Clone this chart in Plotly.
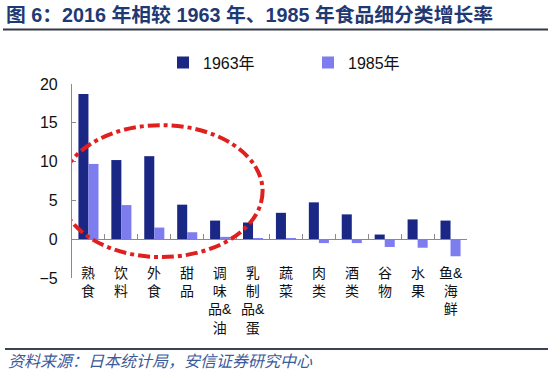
import plotly.graph_objects as go

categories = ["熟食", "饮料", "外食", "甜品", "调味品&油", "乳制品&蛋",
              "蔬菜", "肉类", "酒类", "谷物", "水果", "鱼&海鲜"]
growth_1963 = [18.7, 10.2, 10.7, 4.45, 2.4, 2.15, 3.4, 4.75, 3.2, 0.6, 2.55, 2.4]
growth_1985 = [9.7, 4.4, 1.5, 0.9, 0.3, 0.1, 0.05, -0.5, -0.5, -1.0, -1.1, -2.2]
y_ticks = [-5, 0, 5, 10, 15, 20]

def vertical(label):
    # one character per line; "&" stays with the preceding character
    rows = []
    for ch in label:
        if ch == "&" and rows:
            rows[-1] += ch
        else:
            rows.append(ch)
    return "<br>".join(rows)

tick_text = [vertical(c) for c in categories]

NAVY = "#1B2785"
LIGHT = "#7D7DF0"
CJK = "Liberation Sans, Arial, Noto Sans CJK SC, sans-serif"

fig = go.Figure()
fig.add_trace(go.Bar(x=categories, y=growth_1963, name="1963年",
                     marker=dict(color=NAVY, line=dict(width=0))))
fig.add_trace(go.Bar(x=categories, y=growth_1985, name="1985年",
                     marker=dict(color=LIGHT, line=dict(width=0))))
# helper trace to draw the zero-level category axis with boundary ticks
fig.add_trace(go.Scatter(x=categories, y=[0] * len(categories), xaxis="x2",
                         mode="markers", marker=dict(opacity=0),
                         showlegend=False, hoverinfo="skip"))

n = len(categories)
fig.update_layout(
    width=550, height=371,
    margin=dict(l=72, r=83, t=84, b=93, autoexpand=False),
    paper_bgcolor="white", plot_bgcolor="white",
    barmode="group", bargap=0.39, bargroupgap=0,
    font=dict(family=CJK, color="#111111"),
    showlegend=True,
    legend=dict(orientation="h", x=0.2304, y=1.11, xanchor="left", yanchor="middle",
                entrywidth=100, entrywidthmode="pixels",
                font=dict(size=16, family=CJK), bgcolor="rgba(0,0,0,0)"),
    xaxis=dict(type="category", range=[-0.5, n - 0.5], categoryorder="array",
               categoryarray=categories, showticklabels=False,
               showline=False, ticks="", showgrid=False, zeroline=False,
               automargin=False),
    xaxis2=dict(type="category", overlaying="x", anchor="free", position=0.2,
                range=[-0.5, n - 0.5], categoryorder="array", categoryarray=categories,
                showline=True, linecolor="#8a8a8a", linewidth=1.2, automargin=False,
                ticks="inside", ticklen=5, tickcolor="#8a8a8a", tickson="boundaries",
                showticklabels=False, showgrid=False, zeroline=False),
    yaxis=dict(range=[-5, 20], tickvals=y_ticks, showgrid=False, zeroline=False,
               showline=True, linecolor="#8a8a8a", linewidth=1.2, automargin=False,
               ticks="inside", ticklen=4, tickcolor="#8a8a8a",
               tickfont=dict(size=16, family=CJK, color="#111111"),
               ticklabelstandoff=10),
)

# vertical category labels, placed just below the plot's lower band
for cat, txt in zip(categories, tick_text):
    fig.add_annotation(x=cat, xref="x", y=(278 - 264) / 194, yref="paper",
                       text=txt, showarrow=False, xanchor="center", yanchor="top",
                       align="center", borderpad=0,
                       font=dict(size=14, family=CJK, color="#111111"))

# red dash-dot highlight ellipse
fig.add_shape(type="circle", xref="x", yref="y", x0=-0.86, x1=5.29, y0=-2.3, y1=14.7,
              line=dict(color="#E0201E", width=4, dash="dashdot"))

# title and rules
fig.add_annotation(text="<b>图 6：2016 年相较 1963 年、1985 年食品细分类增长率</b>",
                   xref="paper", yref="paper", x=-68 / 395, y=1 + (84 - 15) / 194,
                   xanchor="left", yanchor="middle", showarrow=False,
                   font=dict(size=19.8, color="#1F3A73", family=CJK))
fig.add_shape(type="line", xref="paper", yref="paper",
              x0=-69 / 395, x1=1 + 81 / 395, y0=1 + (84 - 29.5) / 194, y1=1 + (84 - 29.5) / 194,
              line=dict(color="#333844", width=2))
fig.add_shape(type="line", xref="paper", yref="paper",
              x0=-67 / 395, x1=1 + 81 / 395, y0=-(349 - 278) / 194, y1=-(349 - 278) / 194,
              line=dict(color="#3B4457", width=2))
fig.add_annotation(text="<i>资料来源：日本统计局，安信证券研究中心</i>",
                   xref="paper", yref="paper", x=-66 / 395, y=-(360 - 278) / 194,
                   xanchor="left", yanchor="middle", showarrow=False,
                   font=dict(size=16, color="#3B5A9A", family="Noto Sans CJK SC"))

fig.write_html("out.html", config={"displayModeBar": False},
               post_script="document.body.style.margin='0';")
